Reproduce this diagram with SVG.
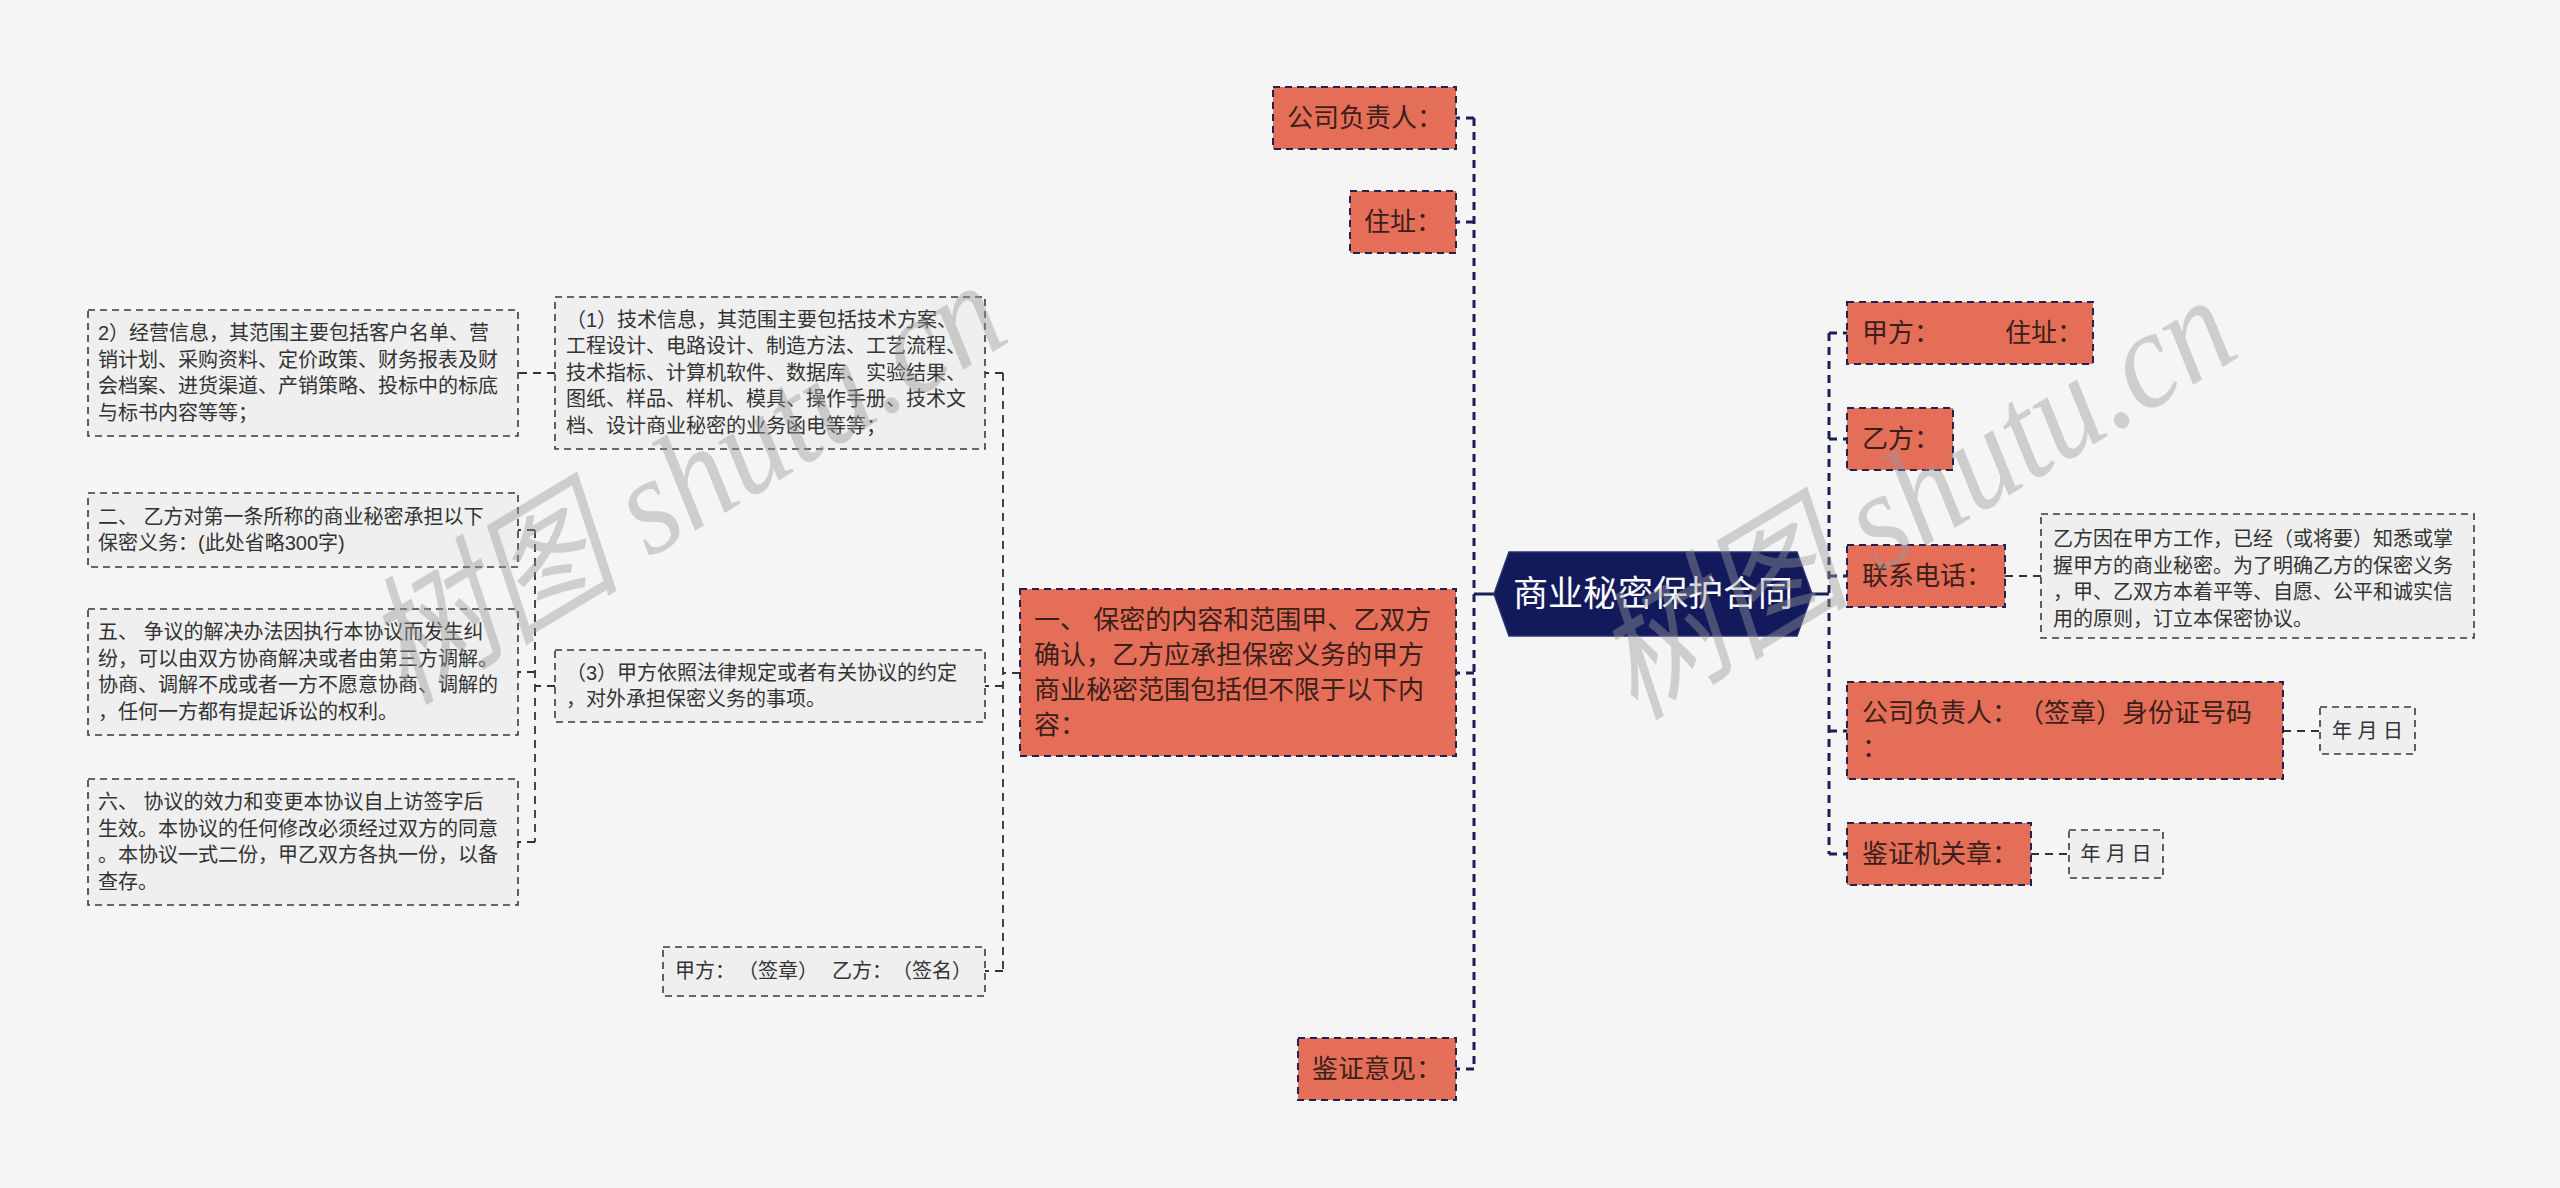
<svg xmlns="http://www.w3.org/2000/svg" width="2560" height="1188" viewBox="0 0 2560 1188">
<defs>
<style>
text{text-spacing-trim:space-all;font-feature-settings:"chws" 0,"halt" 0}
.hub{fill:#121a5c;stroke:#2a3270;stroke-width:1.5}
.htxt{font-family:"Liberation Sans","Noto Sans CJK SC",sans-serif;font-size:35px;fill:#ffffff;text-anchor:middle}
.main{fill:#e56e59;stroke:#1f2352;stroke-width:2;stroke-dasharray:7 5}
.mtxt{font-family:"Liberation Sans","Noto Sans CJK SC",sans-serif;font-size:26px;fill:#3a1f1a}
.leaf{fill:#efefef;stroke:#3a3a3a;stroke-width:1.6;stroke-dasharray:7 5}
.ltxt{font-family:"Liberation Sans","Noto Sans CJK SC",sans-serif;font-size:20px;fill:#333333}
.c1{fill:none;stroke:#1a1f55;stroke-width:3;stroke-dasharray:8 6}
.c1s{fill:none;stroke:#1a1f55;stroke-width:3}
.c2{fill:none;stroke:#333333;stroke-width:1.8;stroke-dasharray:8 6}
.wm{font-family:"Liberation Serif","Noto Sans CJK SC",serif;font-style:italic;font-size:140px;fill:#999999;opacity:0.42}
</style>
</defs>
<rect x="0" y="0" width="2560" height="1188" fill="#f5f5f5"/>

<g id="connectors">
<path class="c1s" d="M1494,594 H1474"/>
<path class="c1" d="M1474,118 V1069"/>
<path class="c1" d="M1474,118 H1456 M1474,222 H1456 M1474,673 H1456 M1474,1069 H1456"/>
<path class="c1s" d="M1812,594 H1829"/>
<path class="c1" d="M1829,333 V854"/>
<path class="c1" d="M1829,333 H1847 M1829,439 H1847 M1829,576 H1847 M1829,731 H1847 M1829,854 H1847"/>
<path class="c2" d="M1020,673 H1003"/>
<path class="c2" d="M1003,373 V971"/>
<path class="c2" d="M1003,373 H985 M1003,686 H985 M1003,971 H985"/>
<path class="c2" d="M555,373 H518"/>
<path class="c2" d="M555,686 H535"/>
<path class="c2" d="M535,530 V842"/>
<path class="c2" d="M535,530 H518 M535,672 H518 M535,842 H518"/>
<path class="c2" d="M2005,576 H2041 M2283,731 H2320 M2031,854 H2069"/>
</g>

<g id="hub">
<polygon class="hub" points="1494,594 1509,552 1797,552 1812,594 1797,636 1509,636"/>
<text class="htxt" x="1653" y="606">商业秘密保护合同</text>
</g>

<g id="n-left-fzr">
<rect class="main" x="1273" y="87" width="183" height="62"/>
<text class="mtxt" x="1287" y="127">公司负责人：</text>
</g>
<g id="n-left-zz">
<rect class="main" x="1350" y="191" width="106" height="62"/>
<text class="mtxt" x="1364" y="231">住址：</text>
</g>
<g id="n-yi">
<rect class="main" x="1020" y="589" width="436" height="167"/>
<text class="mtxt" x="1034" y="629">一、 保密的内容和范围甲、乙双方</text>
<text class="mtxt" x="1034" y="664">确认，乙方应承担保密义务的甲方</text>
<text class="mtxt" x="1034" y="699">商业秘密范围包括但不限于以下内</text>
<text class="mtxt" x="1034" y="734">容：</text>
</g>
<g id="n-jzyj">
<rect class="main" x="1298" y="1038" width="158" height="62"/>
<text class="mtxt" x="1312" y="1078">鉴证意见：</text>
</g>

<g id="n-jishu">
<rect class="leaf" x="555" y="297" width="430" height="152"/>
<text class="ltxt" x="566" y="327">（1）技术信息，其范围主要包括技术方案、</text>
<text class="ltxt" x="566" y="353">工程设计、电路设计、制造方法、工艺流程、</text>
<text class="ltxt" x="566" y="380">技术指标、计算机软件、数据库、实验结果、</text>
<text class="ltxt" x="566" y="406">图纸、样品、样机、模具、操作手册、技术文</text>
<text class="ltxt" x="566" y="433">档、设计商业秘密的业务函电等等；</text>
</g>
<g id="n-3">
<rect class="leaf" x="555" y="650" width="430" height="72"/>
<text class="ltxt" x="566" y="680">（3）甲方依照法律规定或者有关协议的约定</text>
<text class="ltxt" x="566" y="706">，对外承担保密义务的事项。</text>
</g>
<g id="n-sign">
<rect class="leaf" x="663" y="947" width="322" height="49"/>
<text class="ltxt" y="978"><tspan x="675">甲方：</tspan><tspan x="738">（签章）</tspan><tspan x="832">乙方：</tspan><tspan x="892">（签名）</tspan></text>
</g>

<g id="n-jingying">
<rect class="leaf" x="88" y="310" width="430" height="126"/>
<text class="ltxt" x="98" y="340">2）经营信息，其范围主要包括客户名单、营</text>
<text class="ltxt" x="98" y="367">销计划、采购资料、定价政策、财务报表及财</text>
<text class="ltxt" x="98" y="393">会档案、进货渠道、产销策略、投标中的标底</text>
<text class="ltxt" x="98" y="420">与标书内容等等；</text>
</g>
<g id="n-er">
<rect class="leaf" x="88" y="493" width="430" height="74"/>
<text class="ltxt" x="98" y="524">二、 乙方对第一条所称的商业秘密承担以下</text>
<text class="ltxt" x="98" y="550">保密义务：(此处省略300字)</text>
</g>
<g id="n-wu">
<rect class="leaf" x="88" y="609" width="430" height="126"/>
<text class="ltxt" x="98" y="639">五、 争议的解决办法因执行本协议而发生纠</text>
<text class="ltxt" x="98" y="666">纷，可以由双方协商解决或者由第三方调解。</text>
<text class="ltxt" x="98" y="692">协商、调解不成或者一方不愿意协商、调解的</text>
<text class="ltxt" x="98" y="719">，任何一方都有提起诉讼的权利。</text>
</g>
<g id="n-liu">
<rect class="leaf" x="88" y="779" width="430" height="126"/>
<text class="ltxt" x="98" y="809">六、 协议的效力和变更本协议自上访签字后</text>
<text class="ltxt" x="98" y="836">生效。本协议的任何修改必须经过双方的同意</text>
<text class="ltxt" x="98" y="862">。本协议一式二份，甲乙双方各执一份，以备</text>
<text class="ltxt" x="98" y="889">查存。</text>
</g>

<g id="n-jiafang">
<rect class="main" x="1847" y="302" width="246" height="62"/>
<text class="mtxt" y="342"><tspan x="1862">甲方：</tspan><tspan x="2005">住址：</tspan></text>
</g>
<g id="n-yifang">
<rect class="main" x="1847" y="408" width="106" height="62"/>
<text class="mtxt" x="1862" y="448">乙方：</text>
</g>
<g id="n-lxdh">
<rect class="main" x="1847" y="545" width="158" height="62"/>
<text class="mtxt" x="1862" y="585">联系电话：</text>
</g>
<g id="n-right-fzr">
<rect class="main" x="1847" y="682" width="436" height="97"/>
<text class="mtxt" y="722"><tspan x="1862">公司负责人：</tspan><tspan x="2018">（签章）身份证号码</tspan></text>
<text class="mtxt" x="1862" y="757">：</text>
</g>
<g id="n-jzjgz">
<rect class="main" x="1847" y="823" width="184" height="62"/>
<text class="mtxt" x="1862" y="863">鉴证机关章：</text>
</g>

<g id="n-intro">
<rect class="leaf" x="2041" y="514" width="433" height="124"/>
<text class="ltxt" x="2053" y="546">乙方因在甲方工作，已经（或将要）知悉或掌</text>
<text class="ltxt" x="2053" y="573">握甲方的商业秘密。为了明确乙方的保密义务</text>
<text class="ltxt" x="2053" y="599">，甲、乙双方本着平等、自愿、公平和诚实信</text>
<text class="ltxt" x="2053" y="626">用的原则，订立本保密协议。</text>
</g>
<g id="n-date1">
<rect class="leaf" x="2320" y="707" width="95" height="47"/>
<text class="ltxt" x="2367.5" y="738" text-anchor="middle">年 月 日</text>
</g>
<g id="n-date2">
<rect class="leaf" x="2069" y="830" width="94" height="48"/>
<text class="ltxt" x="2116" y="861" text-anchor="middle">年 月 日</text>
</g>

<g id="watermark">
<text class="wm" transform="translate(405,705) rotate(-31)" textLength="710" lengthAdjust="spacingAndGlyphs">树图 shutu.cn</text>
<text class="wm" transform="translate(1635,720) rotate(-31)" textLength="710" lengthAdjust="spacingAndGlyphs">树图 shutu.cn</text>
</g>
</svg>
